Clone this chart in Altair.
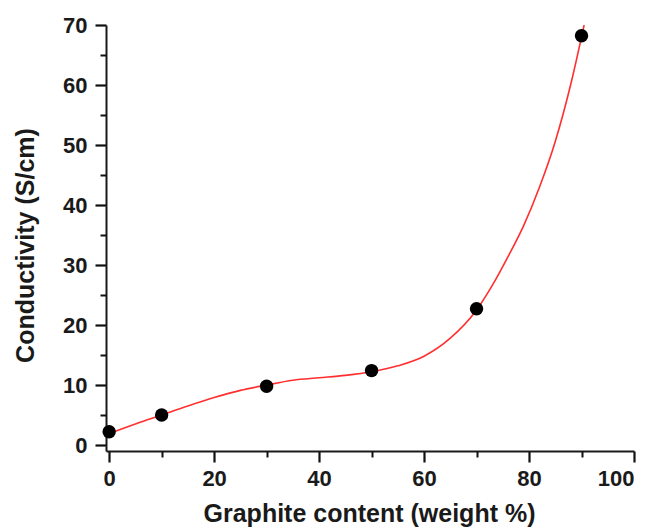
import altair as alt
import pandas as pd

# measured points
pt_x = [0, 10, 30, 50, 70, 90]
pt_y = [2.2, 5.0, 9.8, 12.4, 22.7, 68.2]

# fitted red curve
fit_x = [0, 5, 10, 15, 20, 25, 30, 35, 40, 45, 50, 55, 60, 65, 70, 73, 76, 79, 82, 85, 88, 90.5]
fit_y = [1.9, 3.5, 5.0, 6.5, 7.9, 9.1, 10.0, 10.8, 11.2, 11.6, 12.2, 13.2, 14.8, 17.8, 22.5, 26.6, 31.4, 36.6, 43.0, 50.6, 60.3, 70.0]

x_major = [0, 20, 40, 60, 80, 100]
x_minor = [10, 30, 50, 70, 90]
y_major = [0, 10, 20, 30, 40, 50, 60, 70]
y_minor = [5, 15, 25, 35, 45, 55, 65]

pts = pd.DataFrame({"x": pt_x, "y": pt_y})
fit = pd.DataFrame({"x": fit_x, "y": fit_y})

FONT = "Liberation Sans"
INK = "#1a1a1a"

x_scale = alt.Scale(domain=[-0.6, 100], nice=False, zero=False)
y_scale = alt.Scale(domain=[-1, 70], nice=False, zero=False)

x_axis = alt.Axis(
    values=x_major, orient="bottom", tickSize=11, ticks=True, tickColor="#111111", tickWidth=2.2,
    title="Graphite content (weight %)",
    grid=False, labelPadding=6,
    titleX=263, titleY=62, titleBaseline="middle", titleAlign="center",
)
y_axis = alt.Axis(
    values=y_major, orient="left", tickSize=11, ticks=True, tickColor="#111111", tickWidth=2.2,
    title="Conductivity (S/cm)",
    grid=False, labelPadding=8,
    titleX=-81, titleY=220, titleBaseline="middle", titleAlign="center", titleAngle=270,
)
x_axis_minor = alt.Axis(values=x_minor, orient="bottom", tickSize=6, tickColor="#111111", tickWidth=2,
                        labels=False, title=None, grid=False, domain=False)
y_axis_minor = alt.Axis(values=y_minor, orient="left", tickSize=6, tickColor="#111111", tickWidth=2,
                        labels=False, title=None, grid=False, domain=False)

line = alt.Chart(fit).mark_line(color="#ff2f2f", strokeWidth=1.6, interpolate="monotone", clip=True).encode(
    x=alt.X("x:Q", scale=x_scale, axis=x_axis),
    y=alt.Y("y:Q", scale=y_scale, axis=y_axis),
)

dots = alt.Chart(pts).mark_circle(color="black", size=180, opacity=1).encode(
    x=alt.X("x:Q", scale=x_scale, axis=x_axis_minor),
    y=alt.Y("y:Q", scale=y_scale, axis=y_axis_minor),
)

chart = alt.layer(line, dots).resolve_axis(x="independent", y="independent").properties(
    width=528, height=426,
    autosize=alt.AutoSizeParams(type="none"),
    padding={"left": 106, "top": 25, "right": 20, "bottom": 79},
    background="white",
).configure_view(stroke=None).configure_axis(
    domainColor=INK, domainWidth=2,
    labelFont=FONT, labelFontSize=22, labelFontWeight="bold", labelColor=INK,
    titleFont=FONT, titleFontSize=25, titleFontWeight="bold", titleColor=INK,
)

chart.save("out.html", embed_options={"renderer": "svg", "actions": False})
